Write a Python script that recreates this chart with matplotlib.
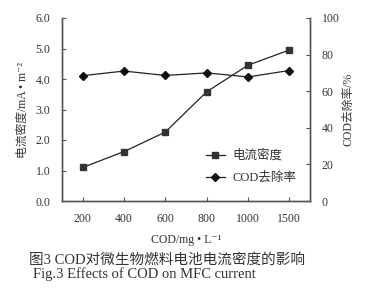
import matplotlib
matplotlib.use("Agg")
import matplotlib.pyplot as plot

plot.rcParams["font.family"] = ["Liberation Serif", "Noto Sans CJK SC",
                                "DejaVu Serif"]
plot.rcParams["axes.unicode_minus"] = False

# data #########################################################################

codLabels = ["200", "400", "600", "800", "1000", "1500"]
currentDensity = [1.1, 1.62, 2.26, 3.58, 4.45, 4.95]
codRemoval = [68.5, 71.0, 68.6, 70.0, 67.8, 71.3]

################################################################################

figure = plot.figure(figsize = (3.65, 3.0), dpi = 100)
ax = figure.add_axes([0.170, 0.33, 0.679, 0.61])
ax2 = ax.twinx()

x = list(range(len(codLabels)))
lineColor = "#222222"
spineColor = "#555555"
textColor = "#333333"

l1, = ax.plot(x, currentDensity, color = lineColor, lw = 0.9, marker = "s",
              markersize = 4.5, markerfacecolor = "#333333",
              markeredgecolor = "#333333", label = "电流密度")
l2, = ax2.plot(x, codRemoval, color = lineColor, lw = 0.9, marker = "D",
               markersize = 3.8, markerfacecolor = "#111111",
               markeredgecolor = "#111111", label = "COD去除率")

ax.set_xlim(-0.5, 5.5)
ax.set_ylim(0, 6)
ax2.set_ylim(0, 100)
ax.set_xticks(x)
ax.set_xticklabels(codLabels)
ax.set_yticks([0, 1, 2, 3, 4, 5, 6])
ax.set_yticklabels(["%.1f" % v for v in [0, 1, 2, 3, 4, 5, 6]])
ax2.set_yticks([0, 20, 40, 60, 80, 100])

for a in (ax, ax2):
  a.spines["top"].set_visible(False)
  for s in ("left", "right", "bottom"):
    a.spines[s].set_color(spineColor)
    a.spines[s].set_linewidth(1.0)
  a.tick_params(direction = "in", length = 3, width = 0.8, colors = spineColor,
                labelcolor = textColor, labelsize = 8.5)
ax.tick_params(axis = "x", pad = 9)
ax.tick_params(axis = "y", pad = 8.5)
ax2.tick_params(axis = "y", pad = 8.5)

ax.set_xlabel("COD/mg • L⁻¹", fontsize = 8.5, color = textColor, labelpad = 6)
ax.set_ylabel("电流密度/mA • m⁻²", fontsize = 8.5, color = textColor,
              labelpad = 5)
ax2.set_ylabel("COD去除率/%", fontsize = 8.5, color = textColor, labelpad = 2)

ax2.legend([l1, l2], ["电流密度", "COD去除率"], loc = "lower right",
           bbox_to_anchor = (0.99, 0.03), frameon = False, fontsize = 9,
           handlelength = 1.5, handletextpad = 0.6, labelspacing = 0.8,
           labelcolor = textColor)

# captions
figure.text(0.08, 1 - 260 / 300, "图3 COD对微生物燃料电池电流密度的影响",
            ha = "left", va = "center", fontsize = 10.5, color = textColor)
figure.text(0.09, 1 - 274 / 300, "Fig.3 Effects of COD on MFC current",
            ha = "left", va = "center", fontsize = 10.5, color = textColor)

figure.savefig("out.png", dpi = 100)
plot.close()
